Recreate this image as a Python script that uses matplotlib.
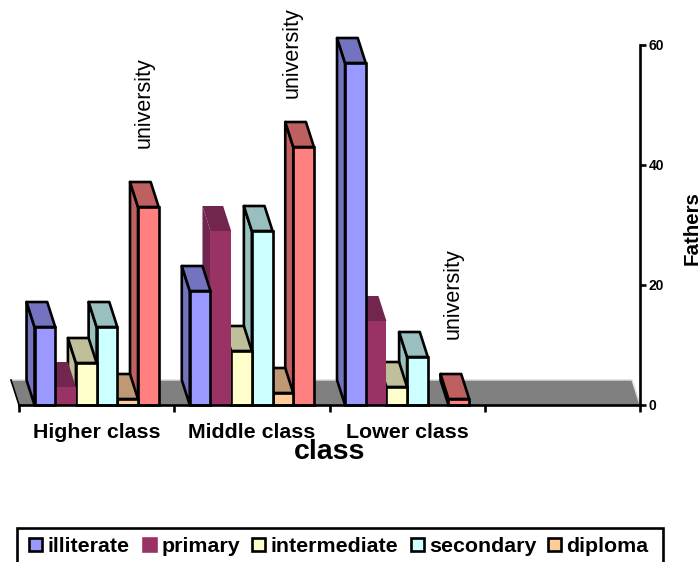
import matplotlib
matplotlib.use("Agg")
import matplotlib.pyplot as plt
from matplotlib.patches import Polygon, Rectangle

W, H = 698, 562
plt.rcParams["font.family"] = ["Liberation Sans", "DejaVu Sans"]

categories = ["Higher class", "Middle class", "Lower class"]
series = ["illiterate", "primary", "intermediate", "secondary", "diploma", "university"]
illiterate = [13, 19, 57]
primary = [3, 29, 14]
intermediate = [7, 9, 3]
secondary = [13, 29, 8]
diploma = [1, 2, 0]
university = [33, 43, 1]
values = [illiterate, primary, intermediate, secondary, diploma, university]

colors = ["#9999FF", "#993366", "#FFFFCC", "#CCFFFF", "#FFCC99", "#FF8080"]
shades = ["#7373BF", "#73264D", "#BFBF99", "#99BFBF", "#BF9973", "#BF6060"]
edges = ["black", "none", "black", "black", "black", "black"]

# depth of the fake 3D, in data units (8px across, 25px up)
DX = -8 / 155.25
DY = 25 / 6
BAR_W = 0.1333
LW = 1.9

fig = plt.figure(figsize=(W / 100, H / 100), dpi=100)
ax = fig.add_axes([19 / W, (H - 405) / H, 621 / W, 360 / H])
ax.set_xlim(0, 4)
ax.set_ylim(0, 60)
ax.patch.set_visible(False)

# floor
ax.add_patch(Polygon([(0, 0), (4, 0), (4 + DX, DY), (DX, DY)], fc="#808080", ec="none", clip_on=False, zorder=1))
ax.plot([DX, 4 + DX, 4], [DY, DY, 0], color="#DDDDDD", lw=1, clip_on=False, zorder=1.1)
ax.plot([DX, 0], [DY, 0], color="black", lw=1.2, clip_on=False, zorder=1.1)

# bars go right to left so the left ones sit in front
z = 2
for c in range(2, -1, -1):
    for s in range(5, -1, -1):
        v = values[s][c]
        if v == 0:
            continue
        x0 = c + 0.1 + s * BAR_W
        x1 = x0 + BAR_W
        ec = edges[s]
        lw = LW if ec != "none" else 0
        side = [(x0, 0), (x0, v), (x0 + DX, v + DY), (x0 + DX, DY)]
        top = [(x0, v), (x1, v), (x1 + DX, v + DY), (x0 + DX, v + DY)]
        ax.add_patch(Polygon(side, fc=shades[s], ec=ec, lw=lw, joinstyle="round", clip_on=False, zorder=z))
        ax.add_patch(Polygon(top, fc=shades[s], ec=ec, lw=lw, joinstyle="round", clip_on=False, zorder=z))
        ax.bar(x0, v, BAR_W, align="edge", color=colors[s], edgecolor=ec, linewidth=lw, clip_on=False, zorder=z)
        z += 1

# value label on the last series
label_off = [(-4, 34), (-11, 24), (-6, 35)]
for c in range(3):
    xc = c + 0.1 + 5.5 * BAR_W
    ax.annotate("university", (xc, university[c] + DY), xytext=label_off[c], textcoords="offset pixels",
                rotation=90, ha="center", va="bottom", fontsize=15.5, annotation_clip=False, zorder=50)

# axes
for name in ["top", "left"]:
    ax.spines[name].set_visible(False)
for name in ["bottom", "right"]:
    ax.spines[name].set_linewidth(LW)
    ax.spines[name].set_zorder(40)
ax.yaxis.tick_right()
ax.yaxis.set_label_position("right")
ax.set_yticks([0, 20, 40, 60])
ax.set_yticklabels(["0", "20", "40", "60"], fontsize=10, fontweight="bold")
ax.tick_params(axis="y", direction="out", length=4, width=LW, pad=2)
ax.set_xticks([0, 1, 2, 3, 4])
ax.set_xticklabels([])
ax.tick_params(axis="x", direction="out", length=5, width=LW)
for c, name in enumerate(categories):
    fig.text((19 + (c + 0.5) * 155.25) / W, (H - 432) / H, name, ha="center", va="center", fontsize=15.4, fontweight="bold")
fig.text(330 / W, (H - 452) / H, "class", ha="center", va="center", fontsize=20.5, fontweight="bold")
fig.text(692 / W, (H - 228) / H, "Fathers", ha="center", va="center", rotation=90, fontsize=14.8, fontweight="bold")

# legend box, bottom edge falls off the canvas
fig.add_artist(Rectangle((17 / W, -6 / H), 646 / W, (H - 528 + 6) / H, transform=fig.transFigure, fc="white", ec="black", lw=LW))
box_x = [29, 143, 252, 411, 548]
for i in range(5):
    ec = "black" if edges[i] != "none" else colors[i]
    fig.add_artist(Rectangle((box_x[i] / W, (H - 551) / H), 13 / W, 13 / H, transform=fig.transFigure,
                             fc=colors[i], ec=ec, lw=LW))
    fig.text((box_x[i] + 18.5) / W, (H - 546) / H, series[i], ha="left", va="center", fontsize=15.4, fontweight="bold")

fig.savefig("out.png", dpi=100)
